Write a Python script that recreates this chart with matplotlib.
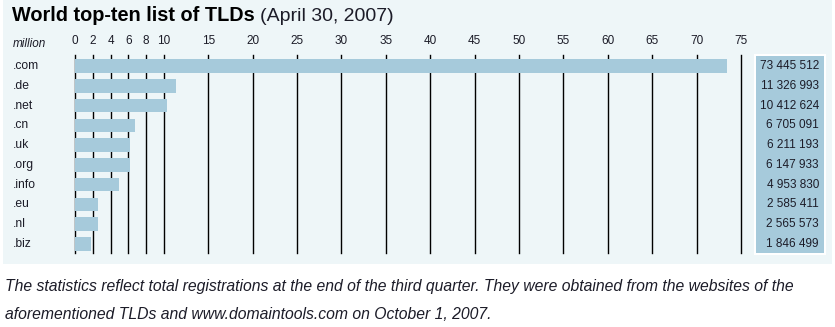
import numpy as np
import matplotlib
matplotlib.use("Agg")
import matplotlib.pyplot as plt
from matplotlib.patches import Rectangle
from matplotlib.transforms import blended_transform_factory

tlds = [".com", ".de", ".net", ".cn", ".uk", ".org", ".info", ".eu", ".nl", ".biz"]
registrations = [73445512, 11326993, 10412624, 6705091, 6211193,
                 6147933, 4953830, 2585411, 2565573, 1846499]
ticks = [0, 2, 4, 6, 8, 10, 15, 20, 25, 30, 35, 40, 45, 50, 55, 60, 65, 70, 75]

W, H = 835, 327
BG = "#eef6f8"
BAR = "#a6cadb"
TXT = "#1c1c28"
plt.rcParams["font.family"] = ["Liberation Sans", "DejaVu Sans"]

fig = plt.figure(figsize=(W / 100, H / 100), dpi=100)
fig.patch.set_facecolor("white")

def fx(px):
    return px / W

def fy(py):
    return 1 - py / H

# light panel behind everything
fig.patches.append(Rectangle((fx(3), fy(264)), fx(832) - fx(3), fy(0) - fy(264),
                             transform=fig.transFigure, facecolor=BG,
                             edgecolor="none", zorder=-5))

# main axes: x 0..75 -> px 75..741, rows centred 66..244
x0, x1 = 75, 741
y_top, y_bot = 55, 253
row0, rowN = 66, 244
step = (rowN - row0) / 9
ax = fig.add_axes([fx(x0), fy(y_bot), fx(x1) - fx(x0), fy(y_top) - fy(y_bot)])
ax.set_zorder(3)
ax.set_facecolor("none")
ax.set_xlim(0, 75)
ax.set_ylim(9 + (y_bot - rowN) / step, -(row0 - y_top) / step)

y = np.arange(len(tlds))
vals = np.array(registrations) / 1e6
ax.barh(y, vals, height=0.68, color=BAR, zorder=3)

for t in ticks:
    ax.axvline(t, color="black", lw=1.0, zorder=1, clip_on=False)

ax.xaxis.tick_top()
ax.set_xticks(ticks)
ax.set_xticklabels([str(t) for t in ticks], fontsize=8.5, color=TXT)
ax.tick_params(axis="x", length=0, pad=6)
ax.set_yticks([])
for s in ax.spines.values():
    s.set_visible(False)

tr = blended_transform_factory(fig.transFigure, ax.transData)
for i, name in enumerate(tlds):
    ax.text(fx(13), i, name, transform=tr, ha="left", va="center",
            fontsize=8.7, color=TXT, clip_on=False)
fig.text(fx(13), fy(44), "million", ha="left", va="center", fontsize=8.5,
         style="italic", color=TXT)

# value box on the right
fig.patches.append(Rectangle((fx(754), fy(255)), fx(826) - fx(754), fy(54) - fy(255),
                             transform=fig.transFigure, facecolor="white",
                             edgecolor="none", zorder=1))
fig.patches.append(Rectangle((fx(756), fy(253)), fx(824) - fx(756), fy(56) - fy(253),
                             transform=fig.transFigure, facecolor=BAR,
                             edgecolor="none", zorder=2))
for i, v in enumerate(registrations):
    ax.text(fx(819), i, f"{v:,}".replace(",", " "), transform=tr,
            ha="right", va="center", fontsize=8.5, color=TXT, clip_on=False)

# title
t1 = fig.text(fx(12), fy(21), "World top-ten list of TLDs", ha="left",
              va="baseline", fontsize=14.3, fontweight="bold", color="black")
fig.canvas.draw()
bb = t1.get_window_extent()
fig.text((bb.x1 + 5) / W, fy(21), "(April 30, 2007)", ha="left", va="baseline",
         fontsize=14, color=TXT)

# caption
cap1 = ("The statistics reflect total registrations at the end of the third quarter. "
        "They were obtained from the websites of the")
cap2 = "aforementioned TLDs and www.domaintools.com on October 1, 2007."
fig.text(fx(5), fy(291), cap1, ha="left", va="baseline", fontsize=11.3,
         style="italic", color=TXT)
fig.text(fx(5), fy(319), cap2, ha="left", va="baseline", fontsize=11.3,
         style="italic", color=TXT)

fig.savefig("out.png", dpi=100, facecolor="white")
